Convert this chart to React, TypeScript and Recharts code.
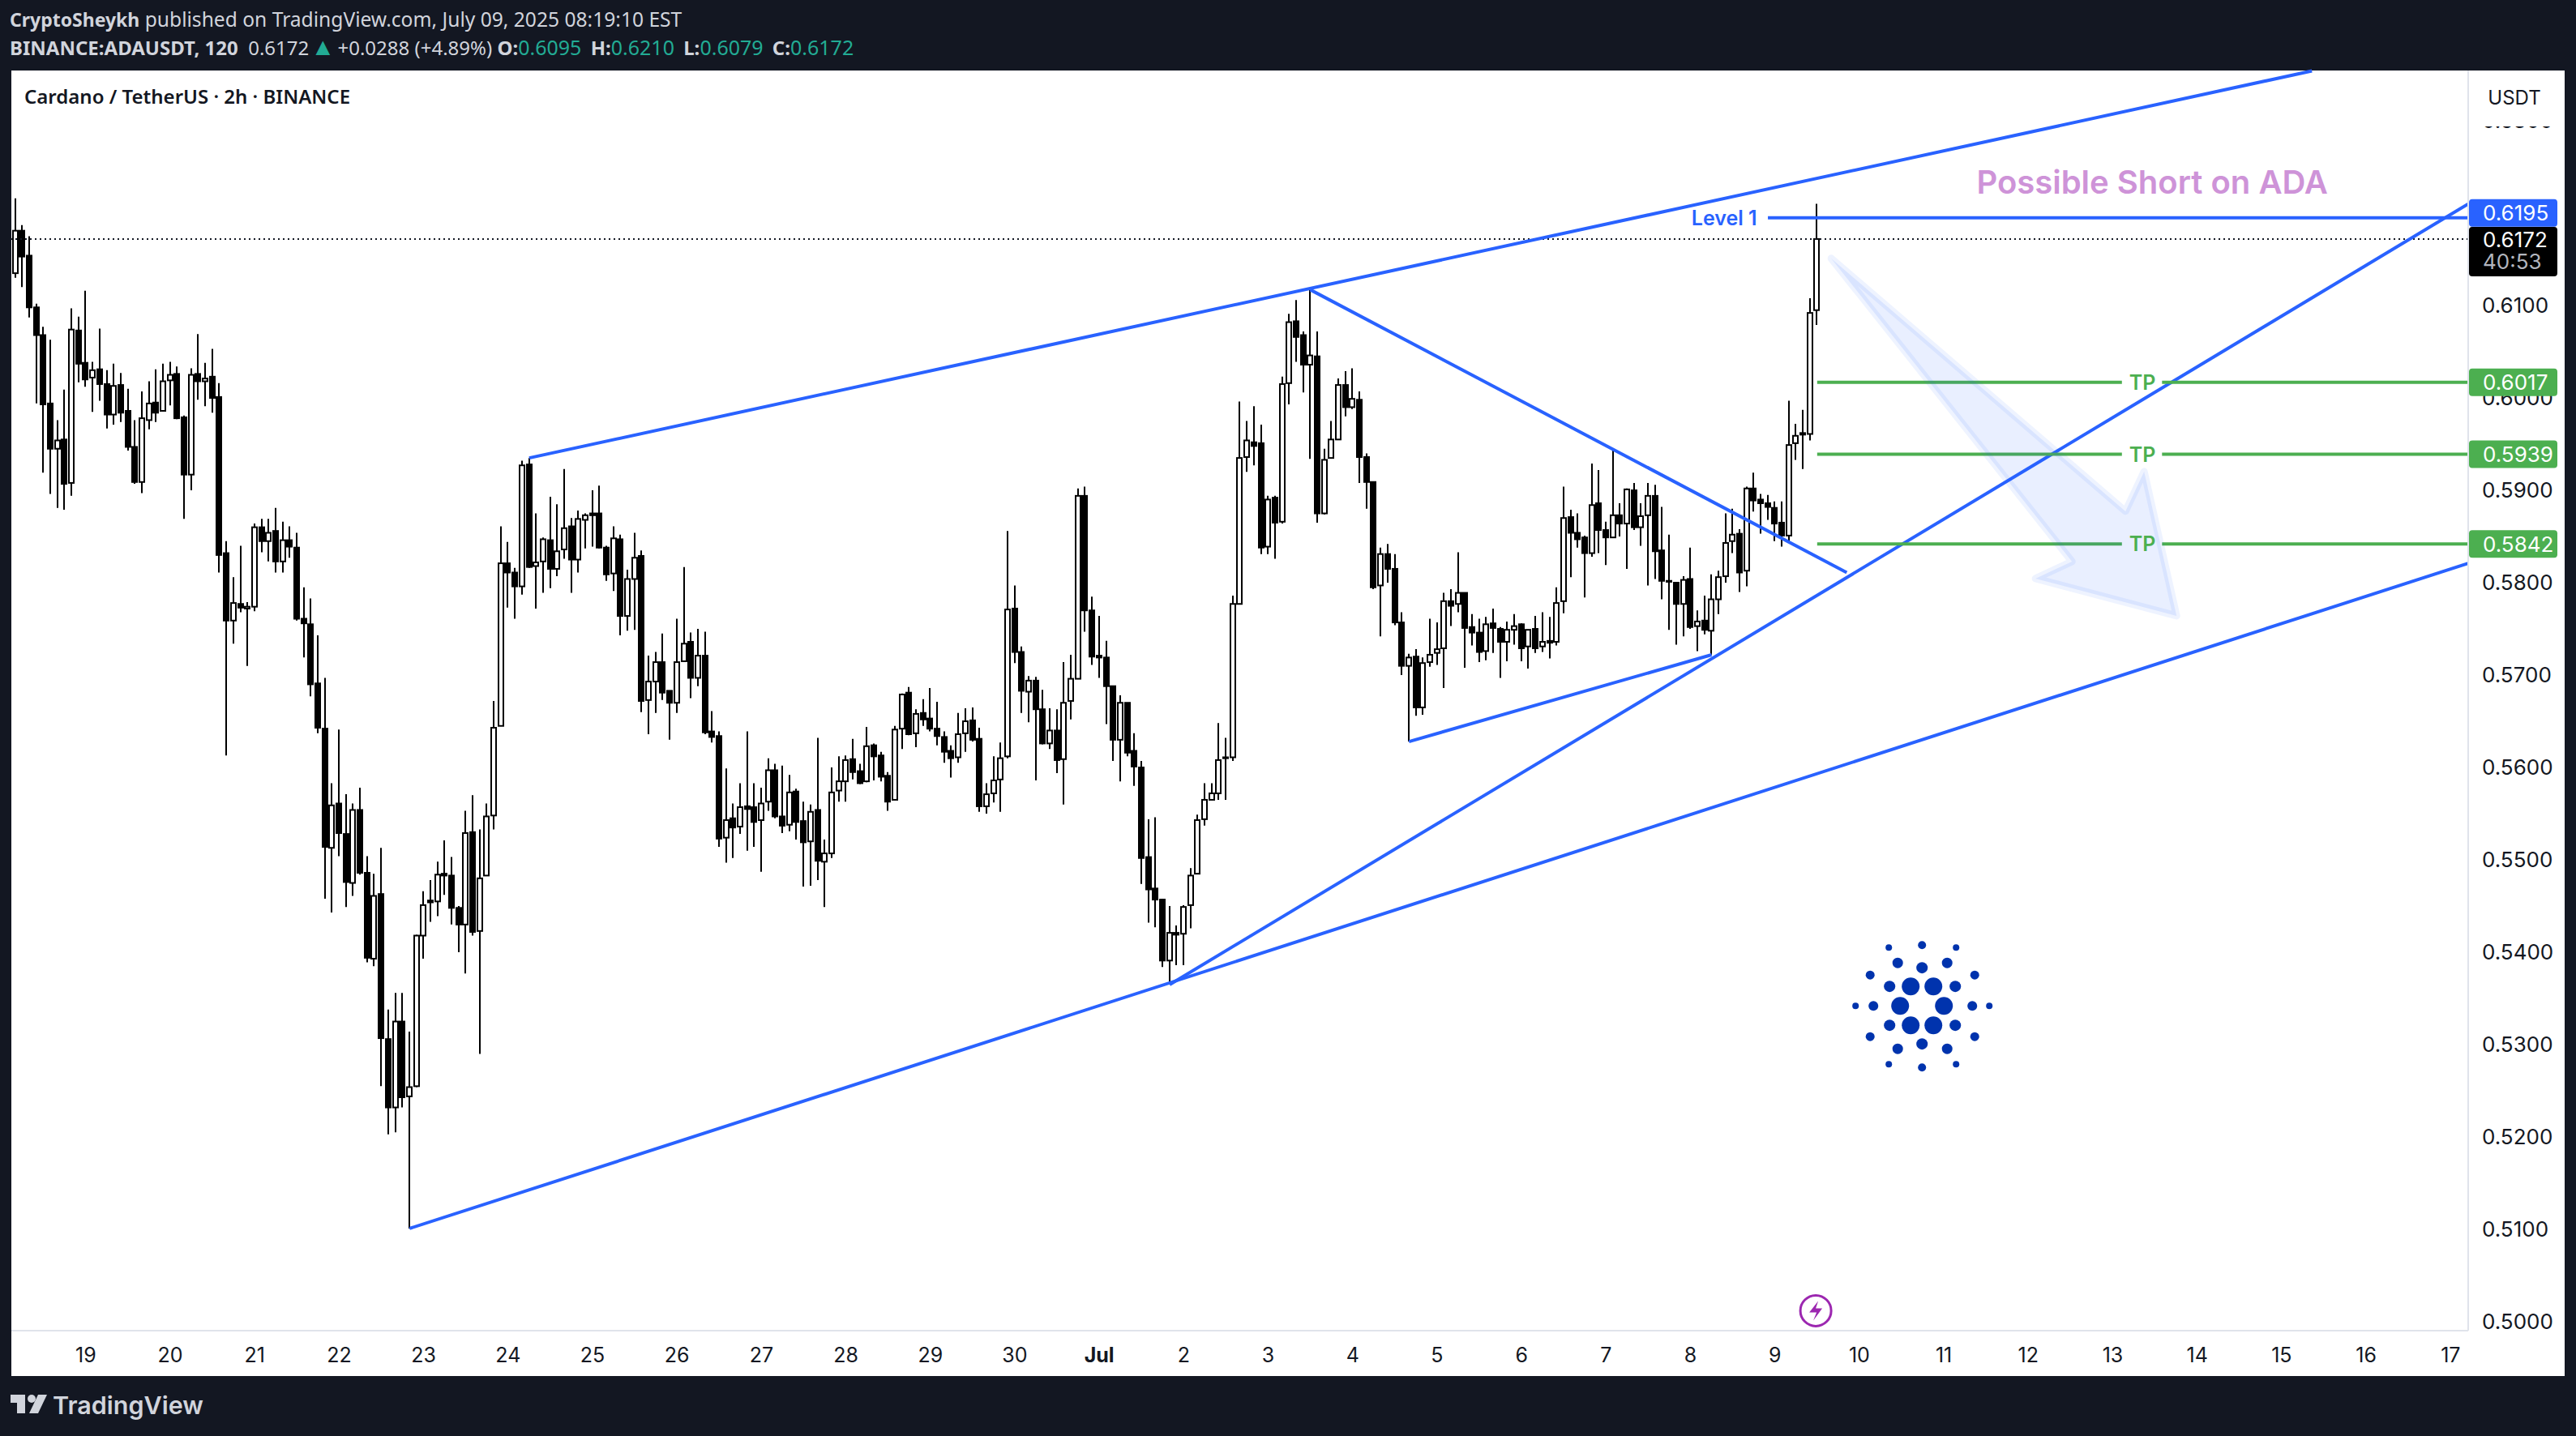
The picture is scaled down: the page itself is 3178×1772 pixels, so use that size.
import React from "react";
import {
  ComposedChart,
  Bar,
  XAxis,
  YAxis,
  ReferenceLine,
  ReferenceDot,
} from "recharts";

// 2h candles, left to right
const opens = [
  .6135,.6181,.6154,.6098,.6068,.5994,.5945,.5955,.5908,.6073,.6038,.6022,.6031,.6015,.5982,.6014,.5986,.5947,.5909,.5976,
  .5995,.5986,.6019,.6026,.5979,.5917,.6026,.6018,.6023,.6001,.5832,.5759,.5777,.5772,.5774,.5860,.5845,.5856,.5823,.5846,
  .5838,.5761,.5755,.5691,.5642,.5513,.5561,.5528,.5475,.5554,.5486,.5393,.5463,.5306,.5232,.5325,.5244,.5255,.5418,.5456,
  .5455,.5485,.5483,.5448,.5430,.5530,.5423,.5483,.5548,.5645,.5821,.5811,.5796,.5928,.5818,.5823,.5846,.5815,.5836,.5861,
  .5825,.5868,.5875,.5875,.5838,.5810,.5847,.5764,.5804,.5829,.5673,.5693,.5714,.5683,.5670,.5715,.5736,.5697,.5721,.5639,
  .5634,.5524,.5545,.5536,.5558,.5557,.5543,.5563,.5597,.5547,.5538,.5574,.5542,.5520,.5554,.5498,.5507,.5575,.5585,.5609,
  .5596,.5585,.5624,.5613,.5591,.5565,.5642,.5681,.5637,.5659,.5653,.5642,.5633,.5618,.5611,.5637,.5651,.5631,.5558,.5572,
  .5587,.5612,.5772,.5725,.5682,.5694,.5663,.5626,.5640,.5609,.5672,.5696,.5894,.5770,.5721,.5719,.5688,.5630,.5670,.5618,
  .5600,.5503,.5469,.5457,.5391,.5421,.5420,.5451,.5485,.5544,.5565,.5572,.5611,.5611,.5777,.5936,.5952,.5951,.5839,.5892,
  .5866,.6016,.6083,.6068,.6036,.6045,.5875,.5935,.5955,.6014,.5990,.5998,.5936,.5909,.5797,.5831,.5815,.5757,.5710,.5720,
  .5665,.5714,.5724,.5729,.5780,.5777,.5789,.5752,.5746,.5726,.5756,.5750,.5736,.5749,.5755,.5731,.5750,.5731,.5737,.5736,
  .5780,.5871,.5854,.5849,.5832,.5886,.5857,.5849,.5873,.5864,.5900,.5860,.5873,.5894,.5835,.5802,.5800,.5777,.5804,.5753,
  .5759,.5748,.5782,.5807,.5845,.5853,.5813,.5902,.5890,.5886,.5881,.5865,.5851,.5951,.5961,.5961,.6095,
];
const highs = [
  .6216,.6187,.6175,.6102,.6077,.6063,.5976,.6009,.6097,.6088,.6116,.6039,.6075,.6030,.6037,.6027,.6010,.5976,.6007,.6018,
  .6031,.6037,.6039,.6034,.5981,.6032,.6069,.6038,.6053,.6016,.5845,.5806,.5840,.5779,.5864,.5869,.5869,.5881,.5866,.5861,
  .5854,.5795,.5783,.5743,.5697,.5583,.5641,.5571,.5561,.5578,.5504,.5485,.5513,.5338,.5356,.5356,.5314,.5419,.5466,.5478,
  .5498,.5521,.5503,.5450,.5553,.5570,.5533,.5561,.5672,.5861,.5844,.5816,.5932,.5935,.5875,.5849,.5893,.5885,.5923,.5870,
  .5878,.5875,.5900,.5905,.5840,.5861,.5852,.5814,.5854,.5835,.5721,.5725,.5745,.5683,.5761,.5817,.5746,.5750,.5747,.5661,
  .5639,.5599,.5561,.5583,.5639,.5583,.5578,.5610,.5604,.5602,.5592,.5577,.5563,.5560,.5632,.5522,.5600,.5612,.5613,.5631,
  .5604,.5644,.5626,.5617,.5595,.5645,.5680,.5687,.5663,.5674,.5686,.5671,.5639,.5624,.5659,.5664,.5665,.5643,.5583,.5612,
  .5627,.5856,.5797,.5731,.5699,.5698,.5684,.5664,.5663,.5714,.5722,.5902,.5904,.5785,.5764,.5737,.5688,.5678,.5670,.5637,
  .5607,.5544,.5546,.5458,.5450,.5429,.5451,.5491,.5549,.5583,.5583,.5648,.5632,.5786,.5996,.5975,.5991,.5971,.5894,.5894,
  .6023,.6091,.6106,.6072,.6117,.6072,.5945,.5975,.6021,.6029,.6032,.6007,.5940,.5909,.5838,.5842,.5831,.5768,.5723,.5728,
  .5719,.5761,.5757,.5789,.5793,.5833,.5789,.5766,.5761,.5763,.5772,.5752,.5758,.5766,.5756,.5749,.5764,.5768,.5763,.5795,
  .5904,.5879,.5875,.5851,.5929,.5922,.5866,.5945,.5886,.5902,.5908,.5886,.5908,.5906,.5882,.5852,.5800,.5807,.5838,.5770,
  .5786,.5809,.5813,.5875,.5880,.5858,.5904,.5919,.5896,.5895,.5888,.5888,.5997,.5972,.5987,.6108,.6210,
];
const lows = [
  .6130,.6120,.6087,.5994,.5919,.5896,.5881,.5879,.5894,.6017,.6012,.5985,.5997,.5967,.5971,.5974,.5943,.5907,.5897,.5966,
  .5974,.5986,.5992,.5977,.5869,.5900,.5998,.5991,.5984,.5811,.5613,.5734,.5768,.5710,.5769,.5833,.5823,.5811,.5811,.5827,
  .5759,.5719,.5677,.5637,.5458,.5443,.5504,.5449,.5461,.5484,.5389,.5385,.5255,.5203,.5205,.5232,.5101,.5254,.5393,.5433,
  .5439,.5462,.5430,.5400,.5377,.5418,.5290,.5483,.5533,.5645,.5773,.5761,.5787,.5816,.5772,.5789,.5794,.5807,.5826,.5789,
  .5811,.5837,.5839,.5837,.5802,.5791,.5743,.5748,.5749,.5660,.5636,.5659,.5673,.5630,.5659,.5715,.5675,.5688,.5636,.5627,
  .5514,.5497,.5502,.5528,.5510,.5514,.5487,.5553,.5545,.5529,.5531,.5522,.5471,.5472,.5478,.5449,.5502,.5563,.5563,.5587,
  .5582,.5584,.5586,.5585,.5553,.5565,.5620,.5635,.5622,.5645,.5639,.5624,.5605,.5589,.5605,.5617,.5628,.5552,.5550,.5562,
  .5552,.5610,.5713,.5659,.5649,.5586,.5625,.5620,.5594,.5560,.5652,.5696,.5747,.5711,.5697,.5647,.5607,.5585,.5612,.5580,
  .5474,.5432,.5427,.5384,.5365,.5386,.5386,.5426,.5485,.5537,.5565,.5565,.5565,.5607,.5777,.5920,.5927,.5831,.5831,.5826,
  .5864,.5993,.6039,.6006,.5934,.5865,.5874,.5935,.5955,.5980,.5988,.5908,.5880,.5793,.5742,.5800,.5754,.5700,.5628,.5656,
  .5657,.5709,.5711,.5686,.5753,.5768,.5708,.5732,.5714,.5716,.5724,.5697,.5715,.5733,.5715,.5707,.5724,.5725,.5718,.5732,
  .5767,.5806,.5838,.5784,.5828,.5832,.5819,.5849,.5850,.5815,.5857,.5840,.5797,.5804,.5782,.5749,.5733,.5742,.5750,.5726,
  .5744,.5722,.5766,.5800,.5832,.5790,.5796,.5877,.5853,.5868,.5845,.5839,.5843,.5933,.5923,.5954,.6079,
];
const closes = [
  .6181,.6153,.6098,.6068,.5993,.5945,.5954,.5907,.6074,.6037,.6020,.6030,.6015,.5982,.6013,.5984,.5947,.5909,.5978,.5994,
  .5984,.6018,.6025,.5978,.5917,.6025,.6018,.6021,.6000,.5830,.5759,.5778,.5773,.5774,.5860,.5845,.5854,.5823,.5846,.5839,
  .5761,.5756,.5690,.5643,.5514,.5559,.5529,.5476,.5554,.5486,.5394,.5461,.5307,.5232,.5325,.5243,.5254,.5418,.5451,.5454,
  .5484,.5483,.5448,.5430,.5529,.5422,.5480,.5547,.5643,.5821,.5811,.5796,.5927,.5817,.5822,.5847,.5815,.5834,.5859,.5825,
  .5869,.5873,.5873,.5838,.5809,.5848,.5764,.5804,.5827,.5672,.5693,.5714,.5681,.5670,.5714,.5734,.5697,.5721,.5638,.5633,
  .5523,.5543,.5535,.5557,.5555,.5541,.5561,.5597,.5547,.5537,.5573,.5541,.5519,.5552,.5499,.5507,.5573,.5585,.5608,.5595,
  .5583,.5623,.5612,.5590,.5563,.5641,.5679,.5636,.5658,.5652,.5642,.5634,.5617,.5610,.5636,.5650,.5630,.5558,.5571,.5586,
  .5610,.5771,.5725,.5683,.5694,.5663,.5626,.5640,.5608,.5670,.5696,.5894,.5770,.5720,.5719,.5688,.5630,.5670,.5616,.5601,
  .5502,.5468,.5457,.5391,.5421,.5419,.5449,.5483,.5543,.5565,.5572,.5608,.5610,.5777,.5935,.5954,.5948,.5838,.5890,.5865,
  .6015,.6082,.6066,.6036,.6046,.5875,.5933,.5955,.6014,.5990,.5999,.5936,.5909,.5795,.5831,.5815,.5757,.5710,.5719,.5665,
  .5713,.5722,.5728,.5780,.5775,.5789,.5751,.5746,.5725,.5755,.5751,.5736,.5749,.5753,.5729,.5749,.5729,.5736,.5735,.5778,
  .5870,.5854,.5847,.5832,.5884,.5857,.5849,.5873,.5864,.5901,.5860,.5872,.5894,.5834,.5802,.5801,.5777,.5803,.5752,.5758,
  .5749,.5782,.5806,.5843,.5852,.5811,.5902,.5889,.5886,.5882,.5864,.5851,.5949,.5959,.5962,.6092,.6172,
];

// one tick every 12 bars, the first on bar 10
const dayLabels = ["19","20","21","22","23","24","25","26","27","28","29","30","Jul","2","3","4","5","6","7","8","9","10","11","12","13","14","15","16","17"];
// 0.6200 sits fully behind the Level 1 tag in the reference, so it is left out
const priceTicks = [.50,.51,.52,.53,.54,.55,.56,.57,.58,.59,.60,.61,.63];

const lastPrice = 0.6172;
const levelOne = 0.6195;
const takeProfits = [0.6017, 0.5939, 0.5842];

// [bar, price, bar, price]
const trendLines = [
  [73, 0.5935, 326.3, 0.6354],
  [56, 0.5101, 348.5, 0.5821],
  [164, 0.5365, 348.5, 0.621],
  [184, 0.6117, 260.2, 0.5811],
  [198, 0.5628, 241, 0.5722],
];

const rows = opens.map((open, i) => ({
  idx: i,
  open,
  close: closes[i],
  range: [lows[i], highs[i]],
}));

const dayTicks = dayLabels.map((_, i) => 10 + i * 12);

const BLUE = "#2962ff";
const GREEN = "#4caf50";
const DARK = "#131722";
const AXIS_FONT = "Inter, sans-serif";
const UI_FONT = "'Noto Sans', sans-serif";

// eslint-disable-next-line @typescript-eslint/no-explicit-any
const Candle = (props: any) => {
  const { x, y, width, height, payload } = props;
  const [low, high] = payload.range;
  const priceY = (p: number) => y + ((high - p) / (high - low)) * height;
  const cx = Math.round(x + width / 2);
  const top = priceY(Math.max(payload.open, payload.close));
  const bottom = priceY(Math.min(payload.open, payload.close));
  const up = payload.close >= payload.open;
  return (
    <g>
      <line x1={cx} x2={cx} y1={y} y2={y + height} stroke="#000" strokeWidth={2} />
      {up ? (
        <rect x={cx - 3} y={top} width={6} height={Math.max(bottom - top, 2)} fill="#fff" stroke="#000" strokeWidth={2} />
      ) : (
        <rect x={cx - 4} y={top - 1} width={8} height={Math.max(bottom - top + 2, 3)} fill="#000" />
      )}
    </g>
  );
};

// eslint-disable-next-line @typescript-eslint/no-explicit-any
const DayTick = (props: any) => {
  const { x, y, payload } = props;
  const label = dayLabels[(payload.value - 10) / 12];
  return (
    <text
      x={x}
      y={y + 22}
      textAnchor="middle"
      dominantBaseline="central"
      fontFamily={AXIS_FONT}
      fontSize={25}
      fontWeight={label === "Jul" ? 700 : 400}
      fill={DARK}
    >
      {label}
    </text>
  );
};

const priceTag = (value: string, fill: string, shift = 0) => {
  // eslint-disable-next-line @typescript-eslint/no-explicit-any
  const Tag = (props: any) => {
    const { cx, cy } = props;
    return (
      <g>
        <rect x={cx + 1} y={cy - 17 + shift} width={109} height={34} rx={4} fill={fill} />
        <text x={cx + 18} y={cy + shift} dominantBaseline="central" fontFamily={AXIS_FONT} fontSize={26} fill="#fff">
          {value}
        </text>
      </g>
    );
  };
  return Tag;
};

// eslint-disable-next-line @typescript-eslint/no-explicit-any
const LastPriceTag = (props: any) => {
  const { cx, cy } = props;
  return (
    <g>
      <rect x={cx + 1} y={cy - 15} width={109} height={61} rx={4} fill="#000" />
      <text x={cx + 18} y={cy + 1} dominantBaseline="central" fontFamily={AXIS_FONT} fontSize={26} fill="#fff">
        0.6172
      </text>
      <text x={cx + 18} y={cy + 28} dominantBaseline="central" fontFamily={AXIS_FONT} fontSize={26} fill="#b2b5be">
        40:53
      </text>
    </g>
  );
};

const chartText = (value: string, fill: string, size: number, weight: number) => {
  // eslint-disable-next-line @typescript-eslint/no-explicit-any
  const Label = (props: any) => (
    <text
      x={props.cx}
      y={props.cy}
      textAnchor="middle"
      dominantBaseline="central"
      fontFamily="Inter, sans-serif"
      fontSize={size}
      fontWeight={weight}
      fill={fill}
    >
      {value}
    </text>
  );
  return Label;
};

// eslint-disable-next-line @typescript-eslint/no-explicit-any
const ShortArrow = (props: any) => {
  const { cx, cy } = props;
  const pts = [[0, 0], [363, 312], [386, 263], [426, 441], [252, 395], [297, 374]];
  return (
    <polygon
      points={pts.map(([dx, dy]) => `${cx + dx},${cy + dy}`).join(" ")}
      fill={BLUE}
      fillOpacity={0.1}
      stroke={BLUE}
      strokeOpacity={0.08}
      strokeWidth={9}
      strokeLinejoin="round"
    />
  );
};

const logoDots = [
  [-14, -24, 11], [14, -24, 11], [-27, 0, 11], [27, 0, 11], [-14, 24, 11], [14, 24, 11],
  [-40, -24, 7], [41, -24, 7], [-60, 0, 6], [62, 0, 6], [-40, 24, 7], [41, 24, 7],
  [0, -47, 7], [0, 47, 7], [-30, -53, 6.5], [31, -53, 6.5], [-30, 53, 6.5], [31, 53, 6.5],
  [-64, -38, 5.5], [65, -38, 5.5], [-64, 38, 5.5], [65, 38, 5.5],
  [-82, 0, 4], [83, 0, 4], [-41, -72, 4], [42, -72, 4], [0, -75, 5], [0, 76, 5], [-41, 72, 4], [42, 72, 4],
];

// eslint-disable-next-line @typescript-eslint/no-explicit-any
const CardanoLogo = (props: any) => (
  <g>
    {logoDots.map(([dx, dy, r], i) => (
      <circle key={i} cx={props.cx + dx} cy={props.cy + dy} r={r} fill="#0033ad" />
    ))}
  </g>
);

// eslint-disable-next-line @typescript-eslint/no-explicit-any
const BoltMark = (props: any) => {
  const { cx, cy } = props;
  return (
    <g>
      <circle cx={cx} cy={cy} r={19} fill="#fff" stroke="#9c27b0" strokeWidth={3} />
      <path
        d={`M${cx + 3} ${cy - 12} L${cx - 8} ${cy + 2} H${cx + 1} L${cx - 3} ${cy + 12} L${cx + 8} ${cy - 3} H${cx} Z`}
        fill="#9c27b0"
      />
    </g>
  );
};

const headerLine: React.CSSProperties = {
  position: "absolute",
  left: 12,
  fontFamily: UI_FONT,
  fontSize: 24,
  lineHeight: "30px",
  color: "#d1d4dc",
  whiteSpace: "nowrap",
};
const teal = { color: "#22ab94", fontSize: 25 };
const gapLabel = { marginLeft: 5 };

export default function App() {
  return (
    <div style={{ position: "absolute", left: 0, top: 0, width: 3178, height: 1772, background: DARK, overflow: "hidden" }}>
      <div style={{ ...headerLine, top: 9, fontSize: 24.6 }}>
        <b style={{ fontSize: 23 }}>CryptoSheykh</b> published on TradingView.com, July 09, 2025 08:19:10 EST
      </div>
      <div style={{ ...headerLine, top: 42 }}>
        <b>BINANCE:ADAUSDT, 120</b>&nbsp; 0.6172 <span style={{ ...teal, fontSize: 30, marginLeft: -4 }}>▲</span>{" "}
        <span style={{ marginLeft: -3 }}>+0.0288 (+4.89%)</span> <b>O:</b>
        <span style={teal}>0.6095</span> <b style={gapLabel}>H:</b>
        <span style={teal}>0.6210</span> <b style={gapLabel}>L:</b>
        <span style={teal}>0.6079</span> <b style={gapLabel}>C:</b>
        <span style={teal}>0.6172</span>
      </div>
      <div style={{ position: "absolute", left: 14, top: 87, width: 3150, height: 1611, background: "#fff" }} />
      <div
        style={{
          position: "absolute",
          left: 30,
          top: 102,
          fontFamily: UI_FONT,
          fontSize: 24,
          fontWeight: 600,
          lineHeight: "34px",
          color: DARK,
          whiteSpace: "nowrap",
          zIndex: 2,
        }}
      >
        Cardano / TetherUS · 2h · BINANCE
      </div>

      <div style={{ position: "absolute", left: 0, top: 0 }}>
        <ComposedChart
          width={3178}
          height={1772}
          data={rows}
          margin={{ top: 87, right: 14, bottom: 74, left: 14 }}
        >
          <XAxis
            dataKey="idx"
            type="number"
            domain={[-0.576, 348.5]}
            allowDataOverflow
            ticks={dayTicks}
            interval={0}
            height={56}
            tick={<DayTick />}
            tickLine={false}
            axisLine={{ stroke: "#e0e3eb", strokeWidth: 2 }}
          />
          <YAxis
            orientation="right"
            type="number"
            domain={[0.49904, 0.63544]}
            allowDataOverflow
            ticks={priceTicks}
            interval={0}
            width={119}
            tickLine={false}
            tickMargin={11}
            tickFormatter={(v: number) => v.toFixed(4)}
            tick={{ fontFamily: AXIS_FONT, fontSize: 26, fill: DARK }}
            axisLine={{ stroke: "#e0e3eb", strokeWidth: 2 }}
          />

          <ReferenceDot x={258} y={0.6151} r={0} ifOverflow="visible" shape={ShortArrow} />
          <ReferenceDot x={270.9} y={0.5342} r={0} ifOverflow="visible" shape={CardanoLogo} />

          <Bar dataKey="range" barSize={8} shape={Candle} isAnimationActive={false} />

          <ReferenceLine y={lastPrice} stroke="#131722" strokeWidth={2} strokeDasharray="2 4" />
          {trendLines.map(([x1, y1, x2, y2], i) => (
            <ReferenceLine
              key={i}
              segment={[{ x: x1, y: y1 }, { x: x2, y: y2 }]}
              stroke={BLUE}
              strokeWidth={4}
              ifOverflow="visible"
            />
          ))}
          <ReferenceLine
            segment={[{ x: 249, y: levelOne }, { x: 348.5, y: levelOne }]}
            stroke={BLUE}
            strokeWidth={4}
            ifOverflow="visible"
          />
          {takeProfits.map((level) => (
            <React.Fragment key={level}>
              <ReferenceLine
                segment={[{ x: 256, y: level }, { x: 299.3, y: level }]}
                stroke={GREEN}
                strokeWidth={4}
                ifOverflow="visible"
              />
              <ReferenceLine
                segment={[{ x: 305, y: level }, { x: 348.5, y: level }]}
                stroke={GREEN}
                strokeWidth={4}
                ifOverflow="visible"
              />
              <ReferenceDot x={302.2} y={level} r={0} ifOverflow="visible" shape={chartText("TP", GREEN, 25, 600)} />
              <ReferenceDot x={348.5} y={level} r={0} ifOverflow="visible" zIndex={2000} shape={priceTag(level.toFixed(4), GREEN)} />
            </React.Fragment>
          ))}
          <ReferenceDot x={242.8} y={levelOne} r={0} ifOverflow="visible" shape={chartText("Level 1", BLUE, 25, 600)} />
          <ReferenceDot x={303.6} y={0.6234} r={0} ifOverflow="visible" shape={chartText("Possible Short on ADA", "#ce93d8", 40, 600)} />
          <ReferenceDot x={348.5} y={levelOne} r={0} ifOverflow="visible" zIndex={2000} shape={priceTag("0.6195", BLUE, -6)} />
          <ReferenceDot x={348.5} y={lastPrice} r={0} ifOverflow="visible" zIndex={2000} shape={LastPriceTag} />
          <ReferenceDot x={255.8} y={0.5012} r={0} ifOverflow="visible" shape={BoltMark} />
        </ComposedChart>
      </div>

      {/* currency label sits on a white patch over the top of the price scale */}
      <div
        style={{
          position: "absolute",
          left: 3047,
          top: 87,
          width: 110,
          height: 69,
          background: "#fff",
          fontFamily: AXIS_FONT,
          fontSize: 24,
          lineHeight: "68px",
          textAlign: "center",
          color: DARK,
        }}
      >
        USDT
      </div>

      <svg style={{ position: "absolute", left: 12, top: 1718 }} width={46} height={28} viewBox="0 0 46 28">
        <path d="M19 3H1v10h8v13h10V3Z" fill="#d1d4dc" />
        <circle cx="27" cy="8" r="5" fill="#d1d4dc" />
        <path d="M35 3h11L35 26H24L35 3Z" fill="#d1d4dc" />
      </svg>
      <div
        style={{
          position: "absolute",
          left: 65,
          top: 1716,
          fontFamily: "Inter, sans-serif",
          fontWeight: 600,
          fontSize: 30.5,
          lineHeight: "36px",
          color: "#d1d4dc",
          whiteSpace: "nowrap",
        }}
      >
        TradingView
      </div>
    </div>
  );
}
